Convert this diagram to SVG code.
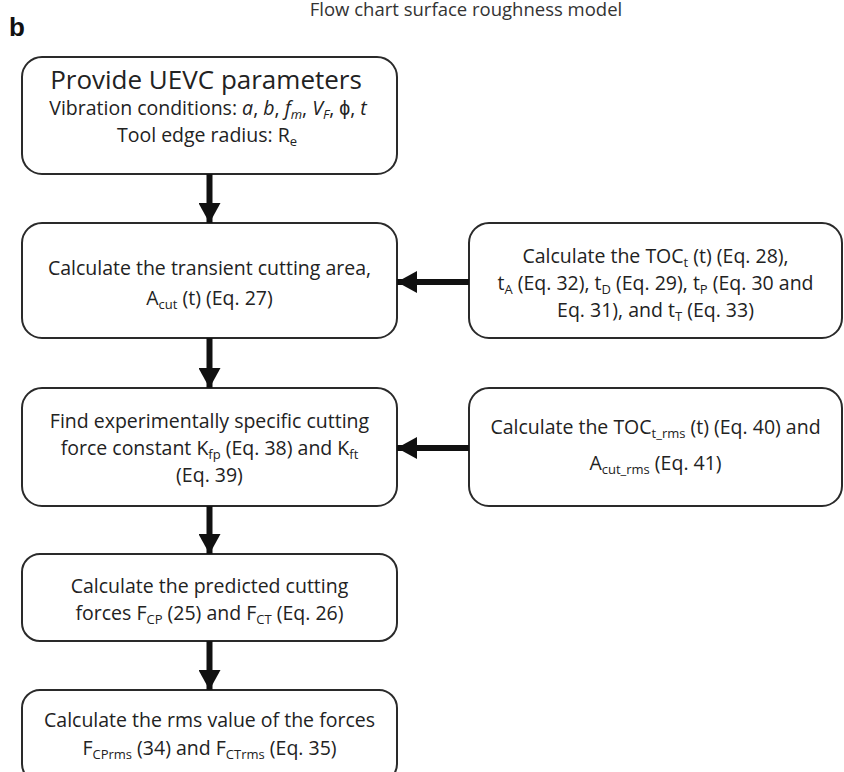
<svg xmlns="http://www.w3.org/2000/svg" width="844" height="772" viewBox="0 0 844 772">
<defs>
<style>
.box{fill:#fff;stroke:#2a2a2a;stroke-width:2}
.t{font-family:"Open Sans","Liberation Sans",sans-serif;font-size:19.5px;fill:#222;text-anchor:middle}
.big{font-size:26px}
.sub{font-size:13px}
.it{font-style:italic}
.conn line{stroke:#111;stroke-width:6}
</style>
<marker id="ah" markerUnits="userSpaceOnUse" markerWidth="22" markerHeight="22" viewBox="0 0 22 22" refX="20" refY="11" orient="auto">
<path d="M0,0 L20,11 L0,22 Z" fill="#111"/>
</marker>
</defs>
<rect width="844" height="772" fill="#fff"/>
<text x="466" y="16" style="font-family:'Open Sans','Liberation Sans',sans-serif;font-size:18.5px;fill:#333;text-anchor:middle">Flow chart surface roughness model</text>
<text x="9" y="36" style="font-family:'Liberation Sans',Arial,sans-serif;font-size:26px;font-weight:bold;fill:#111">b</text>

<g id="n1">
<rect class="box" x="22" y="57" width="375" height="117" rx="20"/>
<text class="t big" x="206" y="89">Provide UEVC parameters</text>
<text class="t" x="208" y="115">Vibration conditions: <tspan class="it">a</tspan>, <tspan class="it">b</tspan>, <tspan class="it">f</tspan><tspan class="sub it" dy="4">m</tspan><tspan dy="-4">, </tspan><tspan class="it">V</tspan><tspan class="sub it" dy="4">F</tspan><tspan dy="-4">, ϕ, </tspan><tspan class="it">t</tspan></text>
<text class="t" x="207" y="142">Tool edge radius: R<tspan class="sub" dy="4">e</tspan></text>
</g>

<g id="n2">
<rect class="box" x="22" y="223" width="375" height="115" rx="20"/>
<text class="t" x="209.5" y="275">Calculate the transient cutting area,</text>
<text class="t" x="209.5" y="305">A<tspan class="sub" dy="4">cut</tspan><tspan dy="-4"> (t) (Eq. 27)</tspan></text>
</g>

<g id="n3">
<rect class="box" x="469" y="223" width="373" height="115" rx="20"/>
<text class="t" x="655.5" y="263">Calculate the TOC<tspan class="sub" dy="4">t</tspan><tspan dy="-4"> (t) (Eq. 28),</tspan></text>
<text class="t" x="655.5" y="290">t<tspan class="sub" dy="4">A</tspan><tspan dy="-4"> (Eq. 32), t</tspan><tspan class="sub" dy="4">D</tspan><tspan dy="-4"> (Eq. 29), t</tspan><tspan class="sub" dy="4">P</tspan><tspan dy="-4"> (Eq. 30 and</tspan></text>
<text class="t" x="655.5" y="317">Eq. 31), and t<tspan class="sub" dy="4">T</tspan><tspan dy="-4"> (Eq. 33)</tspan></text>
</g>

<g id="n4">
<rect class="box" x="22" y="388" width="375" height="118" rx="20"/>
<text class="t" x="209.5" y="428">Find experimentally specific cutting</text>
<text class="t" x="209.5" y="455">force constant K<tspan class="sub" dy="4">fp</tspan><tspan dy="-4"> (Eq. 38) and K</tspan><tspan class="sub" dy="4">ft</tspan></text>
<text class="t" x="209.5" y="482">(Eq. 39)</text>
</g>

<g id="n5">
<rect class="box" x="469" y="388" width="373" height="118" rx="20"/>
<text class="t" x="655.5" y="434">Calculate the TOC<tspan class="sub" dy="4">t_rms</tspan><tspan dy="-4"> (t) (Eq. 40) and</tspan></text>
<text class="t" x="655.5" y="470">A<tspan class="sub" dy="4">cut_rms</tspan><tspan dy="-4"> (Eq. 41)</tspan></text>
</g>

<g id="n6">
<rect class="box" x="22" y="554" width="375" height="87" rx="18"/>
<text class="t" x="209.5" y="593">Calculate the predicted cutting</text>
<text class="t" x="209.5" y="620">forces F<tspan class="sub" dy="4">CP</tspan><tspan dy="-4"> (25) and F</tspan><tspan class="sub" dy="4">CT</tspan><tspan dy="-4"> (Eq. 26)</tspan></text>
</g>

<g id="n7">
<rect class="box" x="22" y="690" width="375" height="92" rx="18"/>
<text class="t" x="209.5" y="727">Calculate the rms value of the forces</text>
<text class="t" x="209.5" y="755">F<tspan class="sub" dy="4">CPrms</tspan><tspan dy="-4"> (34) and F</tspan><tspan class="sub" dy="4">CTrms</tspan><tspan dy="-4"> (Eq. 35)</tspan></text>
</g>

<g class="conn" id="connectors">
<line x1="209.5" y1="174" x2="209.5" y2="223" marker-end="url(#ah)"/>
<line x1="209.5" y1="338" x2="209.5" y2="388" marker-end="url(#ah)"/>
<line x1="209.5" y1="506" x2="209.5" y2="554" marker-end="url(#ah)"/>
<line x1="209.5" y1="641" x2="209.5" y2="690" marker-end="url(#ah)"/>
<line x1="469" y1="282" x2="397" y2="282" marker-end="url(#ah)"/>
<line x1="469" y1="448" x2="397" y2="448" marker-end="url(#ah)"/>
</g>
</svg>
